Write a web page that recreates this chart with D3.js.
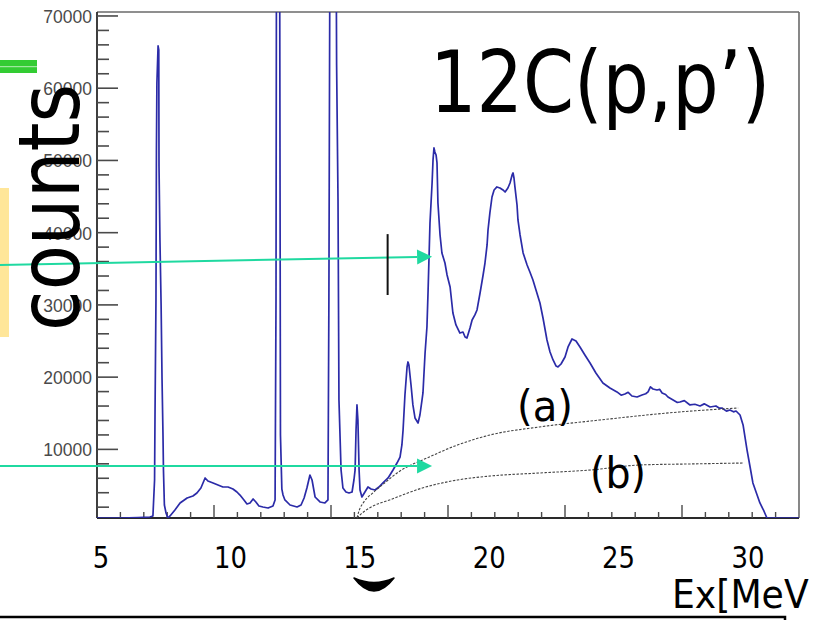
<!DOCTYPE html>
<html>
<head>
<meta charset="utf-8">
<script src="https://cdn.jsdelivr.net/npm/d3@7"></script>
<style>
  html, body { margin: 0; padding: 0; background: #fff; overflow: hidden; }
  svg { display: block; }
</style>
</head>
<body>
<svg id="chart" width="817" height="620"></svg>
<script>
// 12C(p,p') excitation-energy spectrum: [Ex (MeV), counts]
const spectrum = [
  [5.00,500],[5.98,500],[6.75,570],[7.26,640],[7.39,780],[7.46,5760],[7.48,15180],[7.52,30680],
  [7.54,51450],[7.56,60730],[7.61,65850],[7.64,65300],[7.65,49230],[7.69,38990],[7.74,29850],
  [7.78,19610],[7.82,11990],[7.84,7150],[7.88,2300],[7.95,1190],[8.03,500],[8.12,780],[8.33,1610],
  [8.55,2580],[8.85,3270],[9.10,3550],[9.27,3960],[9.44,4650],[9.62,6040],[9.74,5620],[9.96,5350],
  [10.17,5070],[10.38,4790],[10.60,4790],[10.81,4520],[10.98,4100],[11.11,3680],[11.28,3000],
  [11.41,2440],[11.54,2580],[11.67,3130],[11.79,2720],[11.92,2160],[12.09,2020],[12.31,1880],
  [12.52,2160],[12.61,3000],[12.65,30680],[12.69,130000],[12.74,160000],[12.80,90000],[12.84,12000],
  [12.90,4500],[12.95,3680],[13.03,3000],[13.25,2300],[13.55,2020],[13.72,2300],[13.85,3270],
  [13.97,4650],[14.10,6450],[14.19,5760],[14.32,3410],[14.53,2720],[14.74,2580],[14.87,3000],
  [14.91,30680],[14.98,110000],[15.09,140000],[15.17,120000],[15.24,63220],[15.30,44530],
  [15.34,16840],[15.43,7150],[15.51,4650],[15.64,4100],[15.77,3960],[15.90,4100],[15.98,5760],
  [16.03,7150],[16.07,12680],[16.11,16150],[16.15,14070],[16.20,7150],[16.24,4380],[16.32,3410],
  [16.45,4100],[16.58,4790],[16.71,4520],[16.88,4380],[17.05,4790],[17.22,5350],[17.44,6040],
  [17.65,7150],[17.82,8110],[17.95,8940],[18.03,10610],[18.08,12680],[18.16,17530],[18.25,21410],
  [18.29,22100],[18.33,21680],[18.42,18910],[18.50,16150],[18.59,14350],[18.72,13650],[18.80,14760],
  [18.89,16840],[18.93,17810],[18.97,20300],[19.02,23340],[19.10,26940],[19.15,32070],[19.23,41340],
  [19.32,46880],[19.36,50070],[19.40,51730],[19.44,51170],[19.49,50760],[19.53,49650],[19.57,44110],
  [19.66,39680],[19.74,37190],[19.87,35800],[19.96,34140],[20.09,32480],[20.21,28880],[20.34,27220],
  [20.51,26110],[20.64,26250],[20.73,25560],[20.81,25420],[20.94,26800],[21.03,27910],[21.15,28610],
  [21.24,29300],[21.37,31650],[21.50,34140],[21.58,35800],[21.67,38300],[21.71,40370],[21.79,42730],
  [21.88,44940],[21.97,45910],[22.09,46330],[22.22,46190],[22.35,45910],[22.44,45630],[22.56,46190],
  [22.65,46880],[22.74,47990],[22.78,48270],[22.82,47570],[22.86,46330],[22.95,43830],[22.99,41760],
  [23.08,39680],[23.21,37190],[23.38,35530],[23.50,34560],[23.63,33450],[23.76,32070],[23.93,30270],
  [24.06,28190],[24.23,25140],[24.36,23480],[24.49,22380],[24.62,21540],[24.70,21410],[24.83,21820],
  [25.00,22790],[25.13,24180],[25.30,25280],[25.47,25010],[25.64,24180],[25.85,23070],[26.07,21960],
  [26.32,20580],[26.62,19190],[26.92,18500],[27.22,17950],[27.40,17500],[27.56,17670],[27.70,17900],
  [27.86,17390],[28.08,17250],[28.29,17530],[28.45,17700],[28.55,17950],[28.65,18650],[28.76,18360],
  [28.93,18220],[29.05,18300],[29.15,17810],[29.30,17600],[29.40,17250],[29.62,16840],[29.80,16500],
  [29.91,16560],[30.10,16750],[30.34,16150],[30.55,16250],[30.77,16010],[30.95,16300],[31.20,15870],
  [31.45,16010],[31.60,15700],[31.71,15730],[31.90,15300],[32.05,15450],[32.20,15200],[32.31,15310],
  [32.48,14760],[32.61,13380],[32.78,9910],[32.91,7560],[33.03,5350],[33.21,3680],[33.33,2580],
  [33.50,1470],[33.63,500],[35.00,500]
];

// Background estimates above the proton-emission threshold
const backgroundA = [
  [16.11,500],[16.2,1500],[16.4,2700],[16.8,4000],[17.2,5100],[17.9,6900],[19.1,8800],
  [20.4,10600],[21.8,12000],[23.9,13100],[26.5,14070],[29.9,15180],[32.4,15730]
];
const backgroundB = [
  [16.11,500],[16.3,1100],[16.7,2000],[17.5,2990],[18.9,4650],[20.4,5760],[21.8,6310],
  [23.9,6730],[26.1,7150],[28.2,7840],[30.3,7980],[32.6,8110]
];

const yTickValues = [10000, 20000, 30000, 40000, 50000, 60000, 70000];
const xLabelValues = [5, 10, 15, 20, 25, 30];

const svg = d3.select("#chart");
const W = 817, H = 620;
const frame = { left: 97, right: 799, top: 12, bottom: 518 };

const x = d3.scaleLinear().domain([5, 35]).range([frame.left, frame.right]);
const y = d3.scaleLinear().domain([500, 70550]).range([frame.bottom, frame.top]);
// overlay energy labels below the axis
const xLabel = d3.scaleLinear().domain([5, 30]).range([101, 748]);

svg.append("rect").attr("width", W).attr("height", H).attr("fill", "#fff");

// side decorations
svg.append("rect").attr("x", 0).attr("y", 188).attr("width", 9).attr("height", 149).attr("fill", "#ffe699");
svg.append("rect").attr("x", 0).attr("y", 60).attr("width", 37).attr("height", 13).attr("fill", "#33cc33");
svg.append("line").attr("x1", 0).attr("x2", 37).attr("y1", 66.7).attr("y2", 66.7)
  .attr("stroke", "#b8eeb8").attr("stroke-width", 1);

// frame
svg.append("line").attr("x1", frame.left).attr("x2", frame.right).attr("y1", frame.top).attr("y2", frame.top)
  .attr("stroke", "#6a6a6a").attr("stroke-width", 1.6);
svg.append("line").attr("x1", frame.right).attr("x2", frame.right).attr("y1", frame.top).attr("y2", frame.bottom)
  .attr("stroke", "#6a6a6a").attr("stroke-width", 1.6);

// y axis with inside ticks
const gy = svg.append("g");
gy.append("line").attr("x1", frame.left).attr("x2", frame.left).attr("y1", frame.top).attr("y2", frame.bottom)
  .attr("stroke", "#2a2a2a").attr("stroke-width", 1.8);
d3.range(2000, 70001, 2000).forEach(v => {
  const major = v % 10000 === 0;
  gy.append("line").attr("x1", frame.left).attr("x2", frame.left + (major ? 21 : 12))
    .attr("y1", y(v)).attr("y2", y(v)).attr("stroke", "#4a4a4a").attr("stroke-width", 1.6);
});
gy.selectAll("text.ylab").data(yTickValues).join("text")
  .attr("class", "ylab")
  .attr("x", 92).attr("y", d => y(d) + 1)
  .attr("text-anchor", "end").attr("dominant-baseline", "central")
  .attr("font-family", "Liberation Sans, Arial, sans-serif").attr("font-size", 17.5)
  .attr("fill", "#4a4a4a")
  .text(d => d);

// x axis with inside ticks
const gx = svg.append("g");
gx.append("line").attr("x1", frame.left).attr("x2", frame.right).attr("y1", frame.bottom).attr("y2", frame.bottom)
  .attr("stroke", "#2a2a2a").attr("stroke-width", 1.8);
d3.range(6, 35, 1).forEach(v => {
  const major = v % 5 === 0;
  gx.append("line").attr("x1", x(v)).attr("x2", x(v)).attr("y1", frame.bottom).attr("y2", frame.bottom - (major ? 13 : 6))
    .attr("stroke", "#4a4a4a").attr("stroke-width", 1.4);
});

// spectrum
const clipId = "plotClip";
svg.append("clipPath").attr("id", clipId).append("rect")
  .attr("x", frame.left).attr("y", frame.top).attr("width", frame.right - frame.left).attr("height", frame.bottom - frame.top);

const line = d3.line().x(d => x(d[0])).y(d => y(d[1]));
svg.append("path").datum(spectrum)
  .attr("clip-path", `url(#${clipId})`)
  .attr("d", line)
  .attr("fill", "none").attr("stroke", "#2b2ba8").attr("stroke-width", 1.7)
  .attr("stroke-linejoin", "round");

// background curves
const smooth = d3.line().x(d => x(d[0])).y(d => y(d[1])).curve(d3.curveMonotoneX);
[backgroundA, backgroundB].forEach(bg => {
  svg.append("path").datum(bg)
    .attr("d", smooth)
    .attr("fill", "none").attr("stroke", "#444").attr("stroke-width", 1.1)
    .attr("stroke-dasharray", "2.5,1.5");
});

// arrows
const arrowColor = "#1fd9a0";
const arrows = [
  { from: [0.85, 35530], to: [19.32, 36680] },
  { from: [0.85, 7700], to: [19.32, 7700] }
];
arrows.forEach(a => {
  const x0 = x(a.from[0]), y0 = y(a.from[1]), x1 = x(a.to[0]), y1 = y(a.to[1]);
  const ang = Math.atan2(y1 - y0, x1 - x0);
  const len = 15, half = 7.5;
  const bx = x1 - len * Math.cos(ang), by = y1 - len * Math.sin(ang);
  svg.append("line").attr("x1", x0).attr("y1", y0).attr("x2", bx).attr("y2", by)
    .attr("stroke", arrowColor).attr("stroke-width", 2);
  const px = -Math.sin(ang) * half, py = Math.cos(ang) * half;
  svg.append("path")
    .attr("d", `M${x1},${y1}L${bx + px},${by + py}L${bx - px},${by - py}Z`)
    .attr("fill", arrowColor);
});

// threshold marker
svg.append("line")
  .attr("x1", x(17.42)).attr("x2", x(17.42)).attr("y1", y(39800)).attr("y2", y(31370))
  .attr("stroke", "#111").attr("stroke-width", 2);

// labels on the curves
const overlayFont = "DejaVu Sans, Verdana, sans-serif";
svg.append("text").attr("x", x(22.95)).attr("y", y(13860))
  .attr("font-family", overlayFont).attr("font-size", 42).attr("fill", "#000")
  .attr("textLength", 56).attr("lengthAdjust", "spacingAndGlyphs").text("(a)");
svg.append("text").attr("x", x(26.07)).attr("y", y(4720))
  .attr("font-family", overlayFont).attr("font-size", 42).attr("fill", "#000")
  .attr("textLength", 56).attr("lengthAdjust", "spacingAndGlyphs").text("(b)");

// reaction title (narrowed horizontally)
svg.append("text").attr("transform", "translate(430,112) scale(0.85,1)")
  .attr("font-family", overlayFont).attr("font-size", 86).attr("fill", "#000")
  .text("12C(p,p’)");

// y title
svg.append("text").attr("transform", "translate(79,331) rotate(-90)")
  .attr("font-family", overlayFont).attr("font-size", 85).attr("fill", "#000")
  .attr("textLength", 247).attr("lengthAdjust", "spacingAndGlyphs").text("counts");

// energy labels and x title
svg.selectAll("text.xlab").data(xLabelValues).join("text")
  .attr("class", "xlab")
  .attr("x", d => xLabel(d)).attr("y", 568)
  .attr("text-anchor", "middle")
  .attr("font-family", overlayFont).attr("font-size", 30).attr("fill", "#000")
  .attr("textLength", d => String(d).length * 16.5).attr("lengthAdjust", "spacingAndGlyphs")
  .text(d => d);
svg.append("text").attr("transform", "translate(672,608) scale(0.94,1)")
  .attr("font-family", overlayFont).attr("font-size", 38.5).attr("fill", "#000")
  .text("Ex[MeV");

// brace fragment below the axis
svg.append("path")
  .attr("d", "M354,578 Q374,604 394,578 Q374,587 354,578 Z")
  .attr("fill", "#000").attr("stroke", "#000").attr("stroke-width", 1.5).attr("stroke-linejoin", "round");

// caption box at the bottom
svg.append("rect").attr("x", -3).attr("y", 617).attr("width", 788).attr("height", 20)
  .attr("fill", "#fff").attr("stroke", "#000").attr("stroke-width", 2.5);
</script>
</body>
</html>
